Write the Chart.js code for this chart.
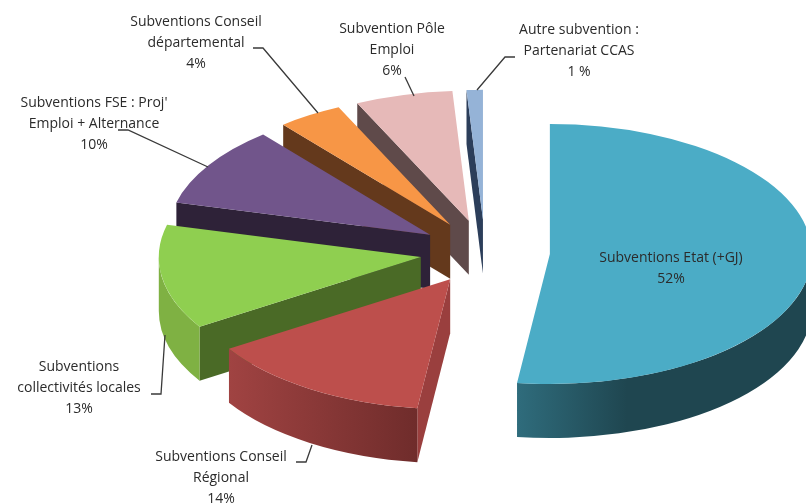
<!DOCTYPE html>
<html>
<head>
<meta charset="utf-8">
<title>Subventions</title>
<style>
html, body { margin: 0; padding: 0; background: #fff; }
canvas { display: block; filter: blur(0.4px); }
</style>
<script src="https://cdn.jsdelivr.net/npm/chart.js@4/dist/chart.umd.js"></script>
</head>
<body>
<canvas id="pieChart" width="806" height="504"></canvas>
<script>
// data
var categories = [
    ["Subventions Etat (+GJ)"],
    ["Subventions Conseil", "Régional"],
    ["Subventions", "collectivités locales"],
    ["Subventions FSE : Proj'", "Emploi + Alternance"],
    ["Subventions Conseil", "départemental"],
    ["Subvention Pôle", "Emploi"],
    ["Autre subvention :", "Partenariat CCAS"]
];
var values = [52, 14, 13, 10, 4, 6, 1];
var percentLabels = ["52%", "14%", "13%", "10%", "4%", "6%", "1 %"];

// slice colours
var topColors = ["#4BACC6", "#BD4F4C", "#8FCF50", "#71558B", "#F79646", "#E6B9B8", "#95B3D7"];
var faceColors = ["#1F4650", "#9A3F3E", "#4A6A26", "#2E2238", "#64391C", "#5F4A4A", "#2C3E5A"];
var wallFrom = ["#2F6C7C", "#A04342", "#7FB143", "#2E2238", "#64391C", "#5F4A4A", "#2C3E5A"];
var wallTo = ["#1F4650", "#6F2C2B", "#7FB143", "#2E2238", "#64391C", "#5F4A4A", "#2C3E5A"];
var wallSpan = [110, 190, 40, 40, 40, 40, 40];

// label layout: text centre x, first line y, leader line
var labelX = [671, 221, 79, 94, 196, 392, 579];
var labelY = [258, 457, 367, 103, 22, 29, 30];
var leaders = [
    null,
    [[296, 462], [306, 462], [312, 445]],
    [[151, 394], [161, 394], [165, 335]],
    [[118, 130], [128, 130], [208, 167]],
    [[253, 48], [263, 48], [318, 113]],
    [[405, 77], [414, 96]],
    [[515, 57], [505, 57], [477, 90]]
];

var pieRadius = 262;
var explode = 65;
var tilt = 0.496;
var depth = 54;
var centerY = 252;
var lineHeight = 21;

function drawSides(ctx, arc, i) {
    var d = depth / tilt;
    var start = arc.startAngle;
    var end = arc.endAngle;
    var r = arc.outerRadius;

    // cut face along the start edge
    var rimX = arc.x + Math.cos(start) * r;
    var rimY = arc.y + Math.sin(start) * r;
    ctx.fillStyle = faceColors[i];
    ctx.beginPath();
    ctx.moveTo(arc.x, arc.y);
    ctx.lineTo(rimX, rimY);
    ctx.lineTo(rimX, rimY + d);
    ctx.lineTo(arc.x, arc.y + d);
    ctx.closePath();
    ctx.fill();

    // outer wall, only the lower half of the ellipse shows
    var from = Math.max(start, 0);
    var to = Math.min(end, Math.PI);
    if (to > from) {
        var leftX = arc.x + Math.cos(to) * r;
        var grad = ctx.createLinearGradient(leftX, 0, leftX + wallSpan[i], 0);
        grad.addColorStop(0, wallFrom[i]);
        grad.addColorStop(1, wallTo[i]);
        ctx.fillStyle = grad;
        ctx.beginPath();
        ctx.arc(arc.x, arc.y, r, from, to);
        ctx.arc(arc.x, arc.y + d, r, to, from, true);
        ctx.closePath();
        ctx.fill();
    }
}

var pie3d = {
    id: "pie3d",
    afterDatasetsUpdate: function (chart) {
        // every slice is pulled out by the same distance
        chart.getDatasetMeta(0).data.forEach(function (arc) {
            var mid = (arc.startAngle + arc.endAngle) / 2;
            arc.x += Math.cos(mid) * explode;
            arc.y += Math.sin(mid) * explode;
        });
    },
    beforeDatasetsDraw: function (chart) {
        var ctx = chart.ctx;
        var arcs = chart.getDatasetMeta(0).data;
        ctx.save();
        ctx.translate(0, centerY);
        ctx.scale(1, tilt);
        ctx.translate(0, -centerY);
        for (var i = arcs.length - 1; i >= 0; i--) {
            drawSides(ctx, arcs[i], i);
        }
    },
    afterDatasetsDraw: function (chart) {
        chart.ctx.restore();
    },
    afterDraw: function (chart) {
        var ctx = chart.ctx;
        ctx.save();
        ctx.strokeStyle = "#3a3a3a";
        ctx.lineWidth = 1.3;
        leaders.forEach(function (pts) {
            if (!pts) return;
            ctx.beginPath();
            pts.forEach(function (p, n) {
                if (n == 0) ctx.moveTo(p[0], p[1]);
                else ctx.lineTo(p[0], p[1]);
            });
            ctx.stroke();
        });
        ctx.fillStyle = "#2b2b2b";
        ctx.font = "14px 'Open Sans'";
        ctx.textAlign = "center";
        ctx.textBaseline = "middle";
        categories.forEach(function (lines, i) {
            var all = lines.concat([percentLabels[i]]);
            all.forEach(function (txt, n) {
                ctx.fillText(txt, labelX[i], labelY[i] + n * lineHeight);
            });
        });
        ctx.restore();
    }
};

var myChart = new Chart(document.getElementById("pieChart"), {
    type: "pie",
    data: {
        labels: categories.map(function (c) { return c.join(" "); }),
        datasets: [{
            data: values,
            backgroundColor: topColors,
            borderWidth: 0,
            radius: pieRadius,
            clip: false
        }]
    },
    options: {
        responsive: false,
        animation: false,
        layout: { padding: { left: 164 } },
        plugins: {
            legend: { display: false },
            tooltip: { enabled: false }
        }
    },
    plugins: [pie3d]
});
</script>
</body>
</html>
